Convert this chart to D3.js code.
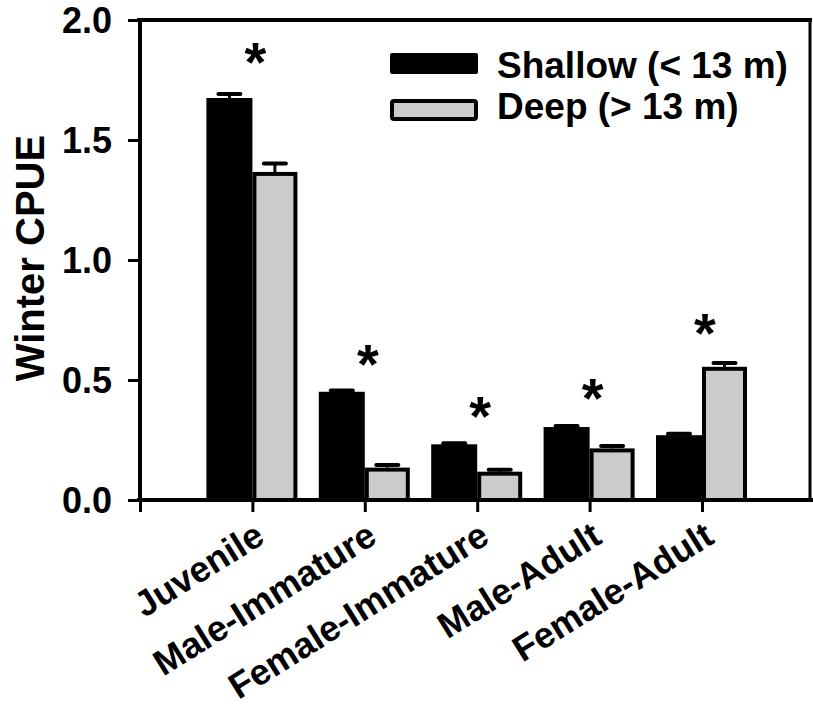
<!DOCTYPE html>
<html>
<head>
<meta charset="utf-8">
<script src="https://cdn.jsdelivr.net/npm/d3@7"></script>
<style>
  html, body { margin: 0; padding: 0; background: #fff; }
  svg { display: block; }
  text { font-family: "Liberation Sans", Arial, Helvetica, sans-serif; font-weight: bold; fill: #000; }
</style>
</head>
<body>
<svg id="chart" width="813" height="720"></svg>
<script>
const categories = ["Juvenile", "Male-Immature", "Female-Immature", "Male-Adult", "Female-Adult"];
const seriesNames = ["Shallow (< 13 m)", "Deep (> 13 m)"];
const shallowValues = [1.675, 0.451, 0.232, 0.304, 0.270];
const deepValues = [1.367, 0.135, 0.118, 0.215, 0.555];
const shallowErrors = [0.017, 0.005, 0.004, 0.004, 0.006];
const deepErrors = [0.035, 0.011, 0.008, 0.010, 0.016];
const starValues = [1.875, 0.617, 0.400, 0.475, 0.746];
const yTickValues = [0.0, 0.5, 1.0, 1.5, 2.0];

const svg = d3.select("#chart");
const mLeft = 140, mRight = 810, mTop = 20, mBottom = 500;

const y = d3.scaleLinear().domain([0, 2]).range([mBottom, mTop]);
const x = d3.scaleLinear().domain([0, 6]).range([mLeft, mLeft + 6 * 112.4]);
const sub = d3.scaleOrdinal().domain(["shallow", "deep"]).range([-46, 0]);
const subW = d3.scaleOrdinal().domain(["shallow", "deep"]).range([46, 45]);

const gray = "#cbcbcb";

// frame (top and right)
svg.append("line").attr("x1", mLeft - 3).attr("x2", mRight + 2).attr("y1", mTop).attr("y2", mTop)
  .attr("stroke", "#000").attr("stroke-width", 4);
svg.append("line").attr("x1", mRight).attr("x2", mRight).attr("y1", mTop).attr("y2", mBottom)
  .attr("stroke", "#000").attr("stroke-width", 3);

const data = categories.map((c, i) => ({
  c, i,
  s: shallowValues[i], d: deepValues[i],
  se: shallowErrors[i], de: deepErrors[i],
  star: starValues[i]
}));

const g = svg.append("g");
// error bars (upper only)
data.forEach(d => {
  [["shallow", d.s, d.se], ["deep", d.d, d.de]].forEach(([k, v, e]) => {
    const cx = x(d.i + 1) + sub(k) + subW(k) / 2;
    g.append("line").attr("x1", cx).attr("x2", cx).attr("y1", y(v)).attr("y2", y(v + e))
      .attr("stroke", "#000").attr("stroke-width", 3);
    g.append("line").attr("x1", cx - 11).attr("x2", cx + 11).attr("y1", y(v + e)).attr("y2", y(v + e))
      .attr("stroke", "#000").attr("stroke-width", 4).attr("stroke-linecap", "round");
  });
});

g.selectAll("rect.shallow").data(data).join("rect")
  .attr("class", "shallow")
  .attr("x", d => x(d.i + 1) + sub("shallow"))
  .attr("y", d => y(d.s))
  .attr("width", subW("shallow"))
  .attr("height", d => y(0) - y(d.s))
  .attr("fill", "#000");

g.selectAll("rect.deep").data(data).join("rect")
  .attr("class", "deep")
  .attr("x", d => x(d.i + 1) + sub("deep") + 2)
  .attr("y", d => y(d.d) + 2)
  .attr("width", subW("deep") - 4)
  .attr("height", d => y(0) - y(d.d) - 2)
  .attr("fill", gray)
  .attr("stroke", "#000").attr("stroke-width", 4);

// asterisks
g.selectAll("text.star").data(data).join("text")
  .attr("class", "star")
  .attr("x", d => x(d.i + 1) + 3)
  .attr("y", d => y(d.star) + 31)
  .attr("text-anchor", "middle")
  .attr("font-size", 56)
  .text("*");

// y axis
const yAxis = d3.axisLeft(y).tickValues(yTickValues).tickFormat(d3.format(".1f")).tickSize(12).tickPadding(16);
const ya = svg.append("g").attr("transform", `translate(${mLeft},0)`).call(yAxis);
ya.select(".domain").attr("stroke-width", 4).attr("d", `M0,${mTop}V${mBottom + 2}`);
ya.selectAll(".tick line").attr("stroke-width", 3);
ya.selectAll(".tick text").attr("font-size", 36).attr("font-family", "Liberation Sans, Arial, sans-serif")
  .attr("font-weight", "bold").attr("dy", "0.36em");

// x axis
const xAxis = d3.axisBottom(x).tickValues([0, 1, 2, 3, 4, 5]).tickFormat("").tickSize(12);
const xa = svg.append("g").attr("transform", `translate(0,${mBottom})`).call(xAxis);
xa.select(".domain").attr("stroke-width", 4).attr("d", `M${mLeft - 3},0H813`);
xa.selectAll(".tick line").attr("stroke-width", 3);

// category labels
svg.selectAll("text.cat").data(data).join("text")
  .attr("class", "cat")
  .attr("transform", d => `translate(${x(d.i + 1) + 14},${mBottom + 42}) rotate(-32)`)
  .attr("text-anchor", "end")
  .attr("font-size", 36)
  .text(d => d.c);

// y title
svg.append("text")
  .attr("transform", `translate(44,258) rotate(-90)`)
  .attr("text-anchor", "middle")
  .attr("font-size", 40)
  .text("Winter CPUE");

// legend
const legend = svg.append("g");
const legendY = [53, 99];
legend.append("rect").attr("x", 390).attr("y", legendY[0]).attr("width", 88).attr("height", 21)
  .attr("rx", 2).attr("fill", "#000");
legend.append("rect").attr("x", 392).attr("y", legendY[1] + 2).attr("width", 84).attr("height", 18)
  .attr("rx", 2).attr("fill", gray).attr("stroke", "#000").attr("stroke-width", 4);
legend.selectAll("text.leg").data(seriesNames).join("text")
  .attr("class", "leg")
  .attr("x", 497)
  .attr("y", (d, i) => [78, 119][i])
  .attr("font-size", 37)
  .text(d => d);
</script>
</body>
</html>
